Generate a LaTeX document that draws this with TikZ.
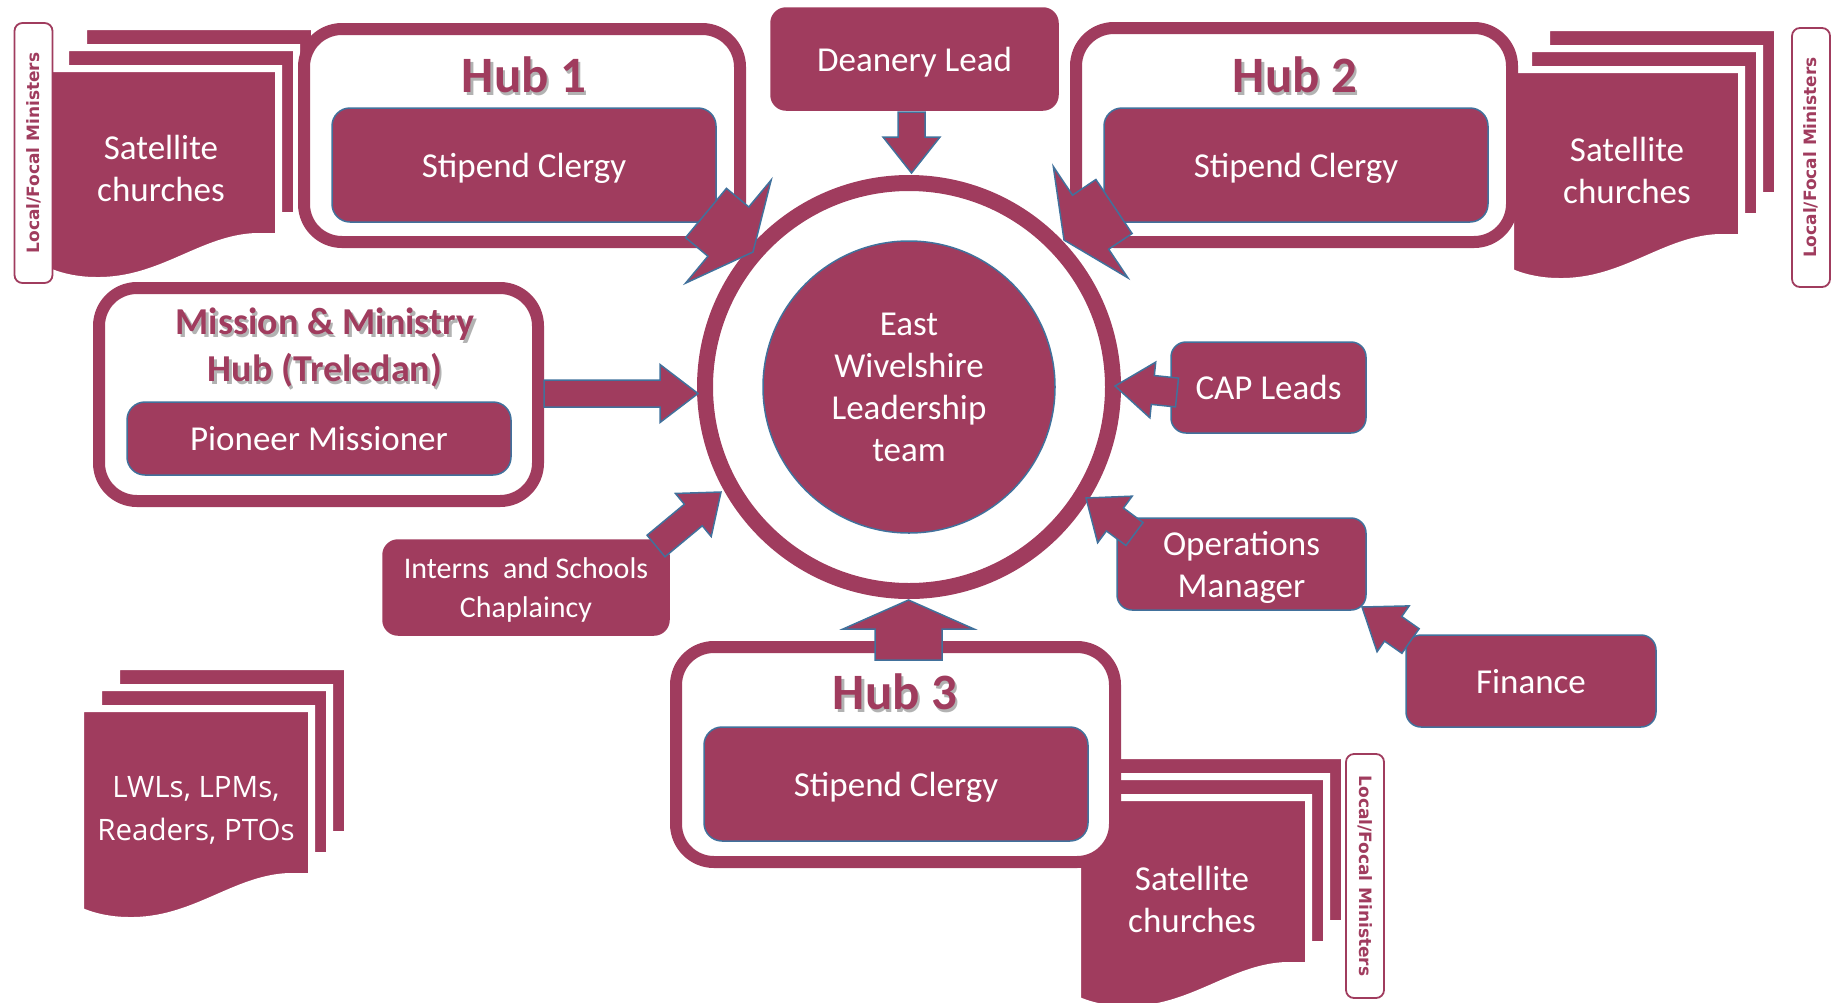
\documentclass[tikz,border=0pt]{standalone}
\usepackage{fontspec}
\setmainfont{Carlito}
\newfontfamily\dvfont{DejaVu Sans}
\newfontfamily\osfont{Open Sans}
\usetikzlibrary{calc}
\definecolor{berry}{RGB}{160,60,94}
\definecolor{edgeblue}{RGB}{65,113,156}
\newcommand{\docsheet}[2]{%
  \path[sheetstyle] ({#1-3.5},{#2-3.5}) -- ({#1+227.5},{#2-3.5}) -- ({#1+227.5},{#2+164.5}) -- ({#1+205},{#2+164.5})
    .. controls ({#1+150},{#2+166.5}) and ({#1+110},{#2+209.5}) .. ({#1+45},{#2+208.5})
    .. controls ({#1+25},{#2+208.5}) and ({#1+8},{#2+204}) .. ({#1-3.5},{#2+199}) -- cycle;}
\newcommand{\docstack}[2]{\docsheet{#1+36}{#2-42}\docsheet{#1+18}{#2-21}\docsheet{#1}{#2}}
\newcommand{\blockarrow}[5]{%
  \coordinate (bah) at ($(#2)!#5!(#1)$);
  \path[arrowstyle] ($(#1)!#3!90:(#2)$) -- ($(bah)!#3!-90:(#1)$) -- ($(bah)!#4!-90:(#1)$) -- (#2)
    -- ($(bah)!#4!90:(#1)$) -- ($(bah)!#3!90:(#1)$) -- ($(#1)!#3!-90:(#2)$) -- cycle;}
\begin{document}
\begin{tikzpicture}[x=1pt,y=-1pt,
  sheetstyle/.style={fill=berry, draw=white, line width=7pt, line join=miter},
  hubframe/.style={rectangle, draw=berry, line width=12pt, fill=white, rounded corners=38pt, inner sep=0pt},
  rbox/.style={rectangle, rounded corners=18pt, fill=berry, draw=edgeblue, line width=1.5pt, text=white,
    font=\fontsize{35}{42}\selectfont, align=center, inner sep=0pt, text depth=0pt},
  plainbox/.style={rbox, draw=berry},
  hubtitle/.style={text=berry, font=\bfseries\fontsize{51}{56}\selectfont, align=center, inner sep=0pt},
  hubshadow/.style={hubtitle, text=black, opacity=0.3},
  mmtitle/.style={hubtitle, font=\bfseries\fontsize{38}{47}\selectfont},
  mmshadow/.style={mmtitle, text=black, opacity=0.3},
  arrowstyle/.style={fill=berry, draw=edgeblue, line width=1.5pt, line join=miter},
  localbox/.style={rectangle, rounded corners=8pt, draw=berry, line width=1.8pt, fill=white, text=berry,
    font=\dvfont\bfseries\fontsize{17}{20}\selectfont, inner sep=0pt, minimum height=38pt},
  sheettext/.style={text=white, font=\fontsize{35}{42}\selectfont, align=center, inner sep=0pt}
]
\useasboundingbox (0,0) rectangle (1836,1002);

% document stacks
\docstack{51}{72}
\docstack{1514}{73}
\docstack{1081}{801}
\docstack{84}{712}

% local/focal ministers boxes
\node[localbox, rotate=90, minimum width=260pt] (lfm1) at (33.5,153) {Local/Focal Ministers};
\node[localbox, rotate=90, minimum width=259pt] (lfm2) at (1811,157.5) {Local/Focal Ministers};
\node[localbox, rotate=-90, minimum width=244pt] (lfm3) at (1365,876) {Local/Focal Ministers};

% hub frames
\node[hubframe, minimum width=436pt, minimum height=213pt] (hub1) at (522,135.5) {};
\node[hubframe, minimum width=436pt, minimum height=214pt] (hub2) at (1294,135) {};
\node[hubframe, minimum width=439pt, minimum height=215pt] (hub3) at (895.5,754.5) {};
\node[hubframe, minimum width=439pt, minimum height=213pt] (mmhub) at (318.5,394.5) {};

% titles
\node[hubshadow] at (526.5,78) {Hub 1};
\node[hubtitle] (hub1t) at (524,75) {Hub 1};
\node[hubshadow] at (1297.5,78) {Hub 2};
\node[hubtitle] (hub2t) at (1295,75) {Hub 2};
\node[hubshadow] at (897.5,695) {Hub 3};
\node[hubtitle] (hub3t) at (895,692) {Hub 3};
\node[mmshadow] at (327.5,351) {Mission \& Ministry\\Hub (Treledan)};
\node[mmtitle] (mmt) at (325,348) {Mission \& Ministry\\Hub (Treledan)};

% inner boxes
\node[rbox, minimum width=384pt, minimum height=114pt] (sc1) at (524,165) {Stipend Clergy};
\node[rbox, minimum width=384pt, minimum height=114pt] (sc2) at (1296,165) {Stipend Clergy};
\node[rbox, minimum width=384pt, minimum height=114pt] (sc3) at (896,784) {Stipend Clergy};
\node[rbox, minimum width=384pt, minimum height=73pt] (pion) at (319,438.5) {Pioneer Missioner};

% other boxes
\node[plainbox, rounded corners=15pt, minimum width=287pt, minimum height=102pt] (dean) at (914.5,59) {Deanery Lead};
\node[rbox, rounded corners=15pt, minimum width=195pt, minimum height=91pt] (cap) at (1268.5,387.5) {CAP Leads};
\node[rbox, rounded corners=15pt, minimum width=249pt, minimum height=92pt] (ops) at (1241.5,564) {Operations\\Manager};
\node[rbox, rounded corners=15pt, minimum width=250pt, minimum height=92pt] (fin) at (1531,681) {Finance};
\node[plainbox, rounded corners=15pt, minimum width=286pt, minimum height=95pt,
  font=\fontsize{30}{39}\selectfont] (intern) at (526,587.5) {Interns\ \ and Schools\\Chaplaincy};

% sheet texts
\node[sheettext] (sat1) at (161,168) {Satellite\\churches};
\node[sheettext] (sat2) at (1627,170) {Satellite\\churches};
\node[sheettext] (sat3) at (1192,899) {Satellite\\churches};
\node[sheettext, font=\osfont\fontsize{29.5}{43}\selectfont] (lwl) at (196,810) {LWLs, LPMs,\\Readers, PTOs};

% central circle
\node[circle, draw=berry, line width=16pt, minimum size=408pt, inner sep=0pt] (ring) at (909,387) {};
\node[circle, fill=berry, draw=edgeblue, line width=1.5pt, minimum size=292pt, inner sep=0pt,
  text=white, font=\fontsize{35}{42}\selectfont, align=center] (ewlt) at (909,387) {East\\Wivelshire\\Leadership\\team};

% arrow end coordinates
\coordinate (t1) at (706,213);   \coordinate (p1) at (753,252);
\coordinate (t2) at (1114,206.5); \coordinate (p2) at (1064,240);
\coordinate (t3) at (911.5,112); \coordinate (p3) at (911.5,173);
\coordinate (t4) at (544,393.5); \coordinate (p4) at (698,393.5);
\coordinate (t5) at (656,546);   \coordinate (p5) at (721,492);
\coordinate (t6) at (1177,392.5); \coordinate (p6) at (1115,386);
\coordinate (t7) at (1134.5,534); \coordinate (p7) at (1086,498);
\coordinate (t8) at (1410.5,641); \coordinate (p8) at (1362,607);
\coordinate (t9) at (908.5,660); \coordinate (p9) at (908.5,600);

\blockarrow{t1}{p1}{32pt}{67pt}{32pt}
\blockarrow{t2}{p2}{32.5pt}{67pt}{32pt}
\blockarrow{t3}{p3}{13.5pt}{28.5pt}{36pt}
\blockarrow{t4}{p4}{13.5pt}{29pt}{38pt}
\blockarrow{t5}{p5}{14pt}{28pt}{36pt}
\blockarrow{t6}{p6}{14.5pt}{28pt}{38pt}
\blockarrow{t7}{p7}{14.3pt}{29pt}{36pt}
\blockarrow{t8}{p8}{15pt}{28pt}{38pt}
\blockarrow{t9}{p9}{33.5pt}{65.5pt}{29pt}
\end{tikzpicture}
\end{document}
